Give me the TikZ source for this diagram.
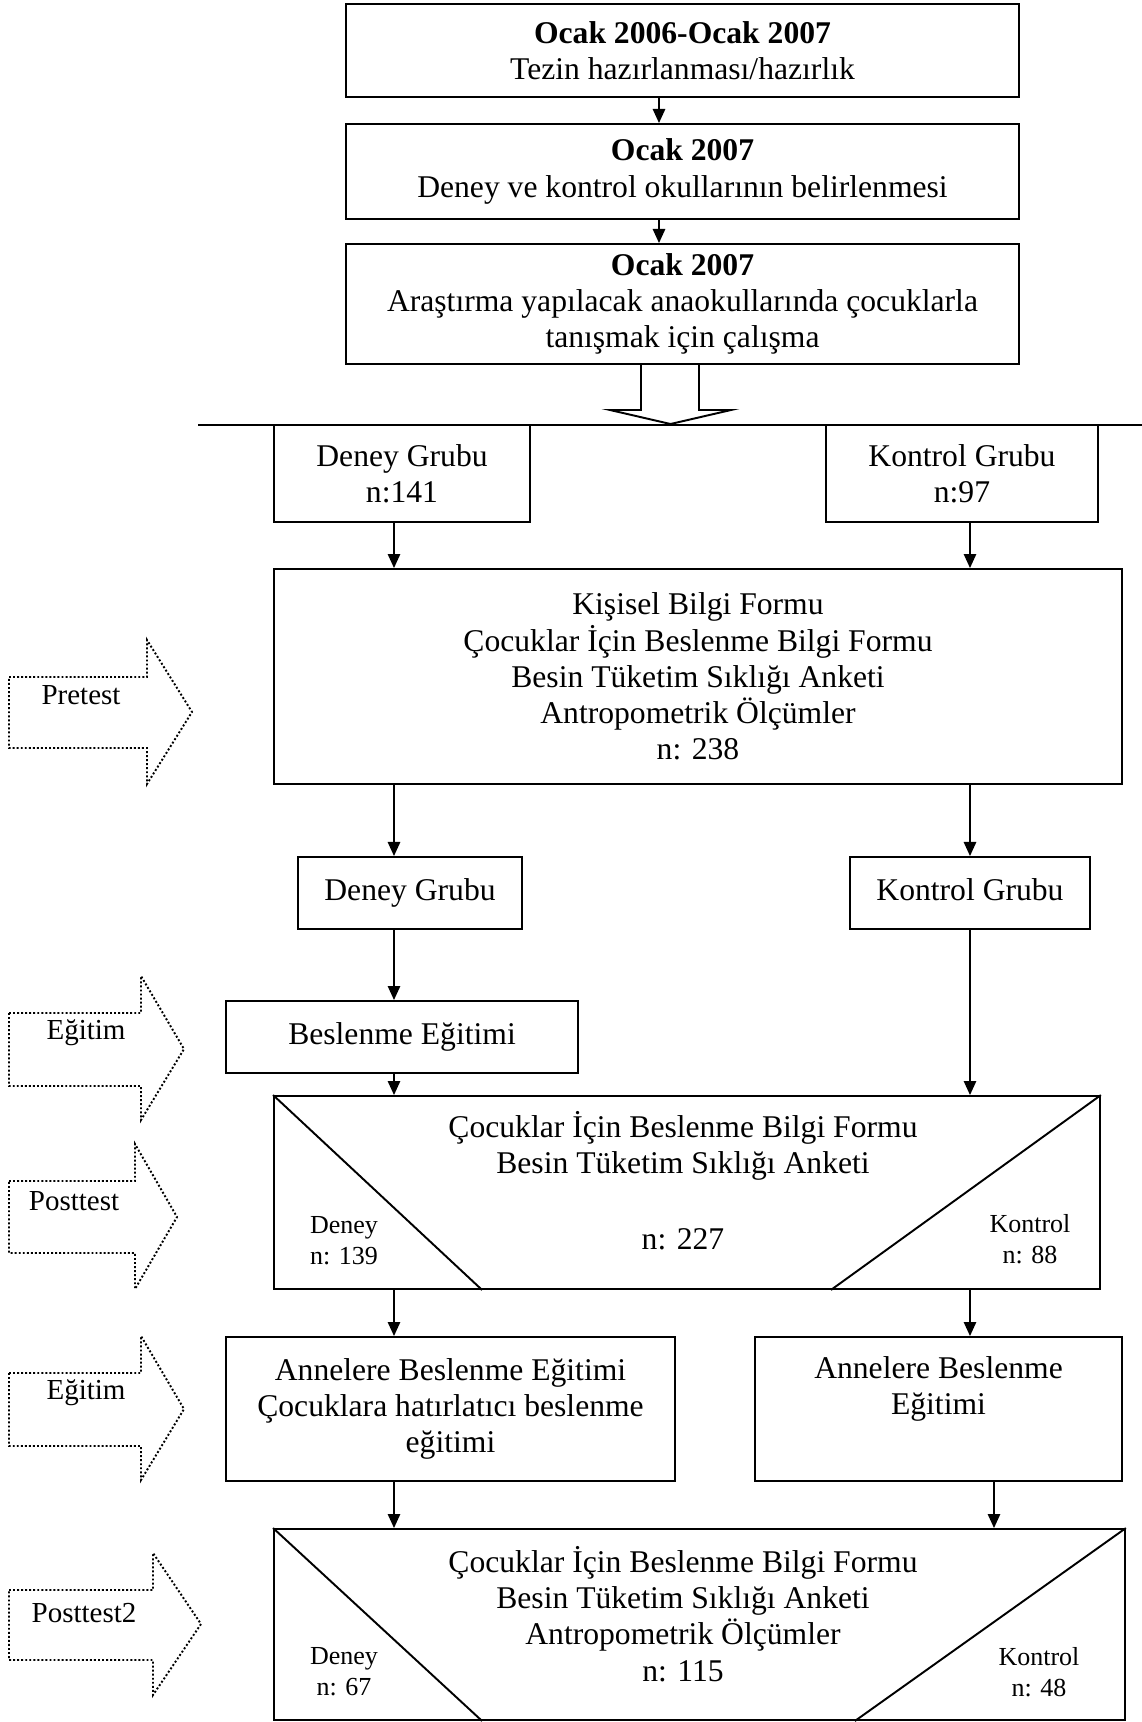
\documentclass[tikz,border=0pt]{standalone}
\usepackage{fontspec}
\setmainfont{Liberation Serif}
\usetikzlibrary{arrows.meta}

\begin{document}
\begin{tikzpicture}[x=0.02cm, y=-0.02cm,
    box/.style={draw, line width=1.1pt, align=center, inner sep=0pt, font=\fontsize{18}{20.6}\selectfont},
    txt/.style={align=center, inner sep=0pt, font=\fontsize{18}{20.6}\selectfont},
    smalltxt/.style={align=center, inner sep=0pt, font=\fontsize{14.8}{17.8}\selectfont},
    arr/.style={line width=1.1pt, -{Triangle[length=8pt,width=7pt]}},
    sidearrow/.style={line width=1.1pt, dash pattern=on 1.1pt off 1.2pt},
    sidelabel/.style={inner sep=0pt, font=\fontsize{16.5}{19}\selectfont}]
    \useasboundingbox (0,0) rectangle (1142,1722);

    % Columns for the connectors
    \coordinate (colT) at (659,0);
    \coordinate (colL) at (394,0);
    \coordinate (colR) at (970,0);
    \coordinate (colR2) at (994,0);

    % Preparation steps
    \node[box, minimum width=13.46cm, minimum height=1.86cm] (hazirlik) at (682.5,50.5)
        {\textbf{Ocak 2006-Ocak 2007}\\Tezin hazırlanması/hazırlık};
    \node[box, minimum width=13.46cm, minimum height=1.90cm] (okul) at (682.5,171.5)
        {\textbf{Ocak 2007}\\Deney ve kontrol okullarının belirlenmesi};
    \node[box, minimum width=13.46cm, minimum height=2.40cm] (tanisma) at (682.5,304)
        {\textbf{Ocak 2007}\\Araştırma yapılacak anaokullarında çocuklarla\\tanışmak için çalışma};
    \draw[arr] (hazirlik.south -| colT) -- (okul.north -| colT);
    \draw[arr] (okul.south -| colT) -- (tanisma.north -| colT);

    % Hollow arrow and split line
    \draw[line width=1.1pt] (641,364) -- (641,410) -- (610,410) -- (670.5,424)
        -- (731,410) -- (699,410) -- (699,364);
    \draw[line width=1.1pt] (198,425) -- (1142,425);

    % Groups
    \node[box, minimum width=5.12cm, minimum height=1.94cm] (deney1) at (402,473.5) {Deney Grubu\\n:141};
    \node[box, minimum width=5.44cm, minimum height=1.94cm] (kontrol1) at (962,473.5) {Kontrol Grubu\\n:97};
    \node[box, minimum width=16.96cm, minimum height=4.30cm] (formlar) at (698,676.5)
        {Kişisel Bilgi Formu\\Çocuklar İçin Beslenme Bilgi Formu\\Besin Tüketim Sıklığı Anketi\\Antropometrik Ölçümler\\n: 238};
    \draw[arr] (deney1.south -| colL) -- (formlar.north -| colL);
    \draw[arr] (kontrol1.south -| colR) -- (formlar.north -| colR);

    \node[box, minimum width=4.48cm, minimum height=1.44cm] (deney2) at (410,893) {\strut Deney Grubu};
    \node[box, minimum width=4.80cm, minimum height=1.44cm] (kontrol2) at (970,893) {\strut Kontrol Grubu};
    \draw[arr] (formlar.south -| colL) -- (deney2.north -| colL);
    \draw[arr] (formlar.south -| colR) -- (kontrol2.north -| colR);

    \node[box, minimum width=7.04cm, minimum height=1.44cm] (egitim) at (402,1037) {\strut Beslenme Eğitimi};
    \draw[arr] (deney2.south -| colL) -- (egitim.north -| colL);

    % First posttest
    \node[box, minimum width=16.52cm, minimum height=3.86cm] (post1) at (687,1192.5) {};
    \draw[line width=1.1pt] (post1.north west) -- ([xshift=4.18cm]post1.south west);
    \draw[line width=1.1pt] (post1.north east) -- ([xshift=-5.40cm]post1.south east);
    \node[txt] (p1text) at (683,1146) {Çocuklar İçin Beslenme Bilgi Formu\\Besin Tüketim Sıklığı Anketi};
    \node[txt] (p1n) at (683,1239) {n: 227};
    \node[smalltxt] (p1d) at (344,1241) {Deney\\n: 139};
    \node[smalltxt] (p1k) at (1030,1239) {Kontrol\\n: 88};
    \draw[arr] (egitim.south -| colL) -- (post1.north -| colL);
    \draw[arr] (kontrol2.south -| colR) -- (post1.north -| colR);

    % Education for mothers
    \node[box, minimum width=8.98cm, minimum height=2.88cm] (anneD) at (450.5,1409)
        {Annelere Beslenme Eğitimi\\Çocuklara hatırlatıcı beslenme\\eğitimi};
    \node[box, minimum width=7.34cm, minimum height=2.88cm] (anneK) at (938.5,1409)
        {Annelere Beslenme\\Eğitimi\\\strut};
    \draw[arr] (post1.south -| colL) -- (anneD.north -| colL);
    \draw[arr] (post1.south -| colR) -- (anneK.north -| colR);

    % Second posttest
    \node[box, minimum width=17.02cm, minimum height=3.82cm] (post2) at (699.5,1624.5) {};
    \draw[line width=1.1pt] (post2.north west) -- ([xshift=4.18cm]post2.south west);
    \draw[line width=1.1pt] (post2.north east) -- ([xshift=-5.42cm]post2.south east);
    \node[txt] (p2text) at (683,1614)
        {Çocuklar İçin Beslenme Bilgi Formu\\Besin Tüketim Sıklığı Anketi\\Antropometrik Ölçümler\\n: 115};
    \node[smalltxt] (p2d) at (344,1672) {Deney\\n: 67};
    \node[smalltxt] (p2k) at (1039,1672) {Kontrol\\n: 48};
    \draw[arr] (anneD.south -| colL) -- (post2.north -| colL);
    \draw[arr] (anneK.south -| colR2) -- (post2.north -| colR2);

    % Dotted side arrows
    \draw[sidearrow] (9,677) -- (147,677) -- (147,640) -- (192,712) -- (147,784) -- (147,748) -- (9,748) -- cycle;
    \node[sidelabel] (lblPre) at (81,695) {Pretest};
    \draw[sidearrow] (9,1013) -- (141,1013) -- (141,976) -- (184,1049) -- (141,1120) -- (141,1086) -- (9,1086) -- cycle;
    \node[sidelabel] (lblEgt1) at (86,1033) {Eğitim};
    \draw[sidearrow] (9,1181) -- (135,1181) -- (135,1144) -- (177,1217) -- (135,1289) -- (135,1253) -- (9,1253) -- cycle;
    \node[sidelabel] (lblPost) at (74,1201) {Posttest};
    \draw[sidearrow] (9,1373) -- (141,1373) -- (141,1336) -- (184,1409) -- (141,1480) -- (141,1446) -- (9,1446) -- cycle;
    \node[sidelabel] (lblEgt2) at (86,1393) {Eğitim};
    \draw[sidearrow] (9,1590) -- (153,1590) -- (153,1553) -- (201,1624) -- (153,1695) -- (153,1660) -- (9,1660) -- cycle;
    \node[sidelabel] (lblPost2) at (84,1613) {Posttest2};
\end{tikzpicture}
\end{document}
